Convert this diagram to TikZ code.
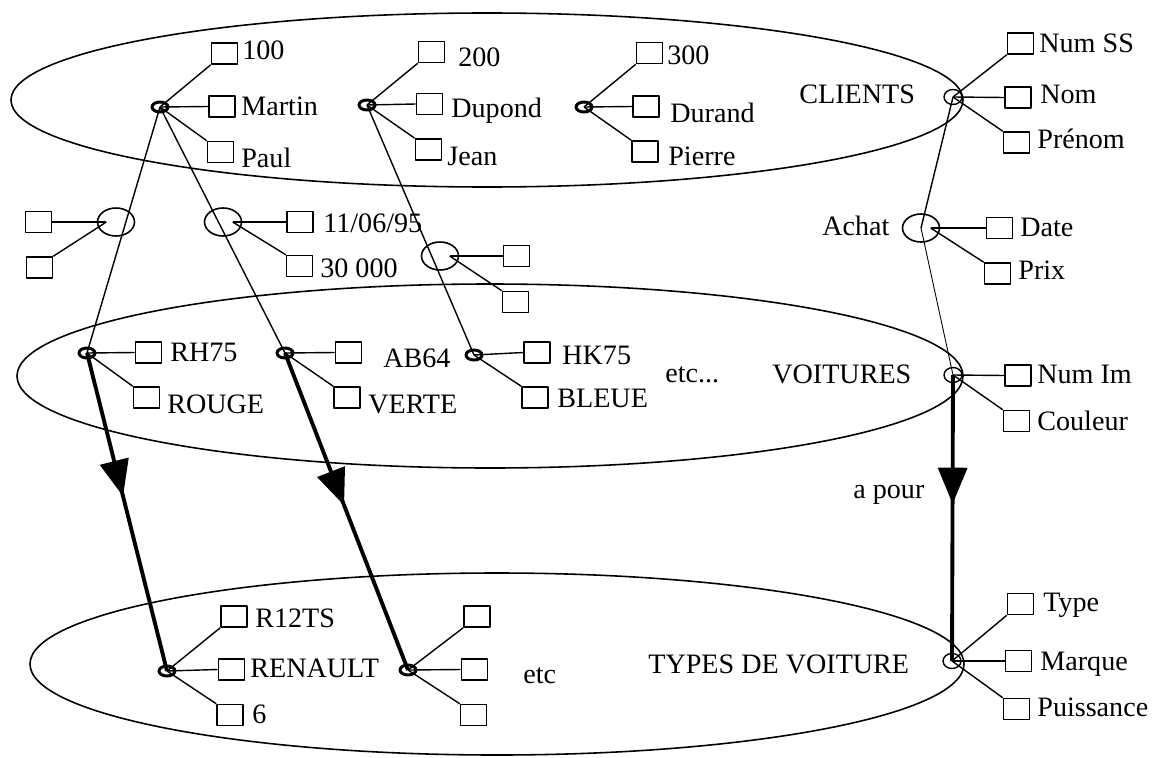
\documentclass[tikz,border=0pt]{standalone}
\usepackage{fontspec}
\setmainfont{Liberation Serif}
\usetikzlibrary{arrows.meta,calc,decorations.markings,shapes.geometric}

\begin{document}
\begin{tikzpicture}[x=0.02cm,y=-0.02cm,line join=round,
  every node/.style={font=\fontsize{16}{19}\selectfont},
  set/.style={line width=0.9pt},
  attr/.style={draw,line width=0.9pt,minimum width=0.52cm,minimum height=0.42cm,inner sep=0pt},
  occ/.style={ellipse,draw,line width=1.7pt,minimum width=0.32cm,minimum height=0.2cm,inner sep=0pt},
  ent/.style={ellipse,draw,line width=0.8pt,minimum width=0.36cm,minimum height=0.3cm,inner sep=0pt},
  rel/.style={ellipse,draw,line width=0.9pt,minimum width=0.74cm,minimum height=0.56cm,inner sep=0pt},
  txt/.style={anchor=base west,inner sep=0pt},
  link/.style={line width=0.8pt},
  typelink/.style={line width=2.2pt,postaction={decorate},
    decoration={markings,mark=at position #1 with {\fill (0,0) -- (-0.72cm,0.3cm) -- (-0.72cm,-0.3cm) -- cycle;}}}]
  \useasboundingbox (0,0) rectangle (1158,757);
  \draw[set] (487,100) ellipse [x radius=476,y radius=87];
  \draw[set] (490,376) ellipse [x radius=473,y radius=92];
  \draw[set] (497,664) ellipse [x radius=467,y radius=91];

  % CLIENTS
  \node[occ] (martin) at (160,107) {};
  \node[attr] (b100) at (224.5,53.5) {};
  \node[attr] (bmartin) at (222,106.5) {};
  \node[attr] (bpaul) at (220.5,152) {};
  \node[txt] (t100) at (242,60) {100};
  \node[txt] (tmartin) at (241,115) {Martin};
  \node[txt] (tpaul) at (241,167) {Paul};
  \node[occ] (dupond) at (367,105) {};
  \node[attr] (b200) at (431.5,52) {};
  \node[attr] (bdupond) at (429.5,104) {};
  \node[attr] (bjean) at (428.5,149.5) {};
  \node[txt] (t200) at (458,67) {200};
  \node[txt] (tdupond) at (451,117) {Dupond};
  \node[txt] (tjean) at (447,165) {Jean};
  \node[occ] (durand) at (584,107) {};
  \node[attr] (b300) at (649.5,53) {};
  \node[attr] (bdurand) at (646,106.5) {};
  \node[attr] (bpierre) at (645,151.5) {};
  \node[txt] (t300) at (667,65) {300};
  \node[txt] (tdurand) at (670,122) {Durand};
  \node[txt] (tpierre) at (668,165) {Pierre};
  \node[txt] (tclients) at (799,103) {CLIENTS};
  \node[ent] (clients) at (953,97) {};
  \node[attr] (bnumss) at (1020.5,43.5) {};
  \node[attr] (bnom) at (1018,97.5) {};
  \node[attr] (bprenom) at (1016.5,142.5) {};
  \node[txt] (tnumss) at (1039,52) {Num SS};
  \node[txt] (tnom) at (1040,103) {Nom};
  \node[txt] (tprenom) at (1037,148) {Prénom};
  \foreach \o/\a/\b/\c in {martin/b100/bmartin/bpaul,dupond/b200/bdupond/bjean,
      durand/b300/bdurand/bpierre,clients/bnumss/bnom/bprenom}{
    \draw[link] (\o.center) -- (\a.south west);
    \draw[link] (\o.center) -- (\b.west);
    \draw[link] (\o.center) -- (\c.north west);
  }

  % Achat
  \node[rel] (relA) at (116,222) {};
  \node[attr] (ba1) at (38.5,222) {};
  \node[attr] (ba2) at (39.5,267.5) {};
  \draw[link] ($(relA)!0.5!(relA.west)$) -- (ba1.east);
  \draw[link] ($(relA)!0.5!(relA.west)$) -- (ba2.north east);
  \node[rel] (relB) at (223,222) {};
  \node[attr] (bb1) at (300,222) {};
  \node[attr] (bb2) at (299.5,266) {};
  \node[txt] (tdate1) at (323,232) {11/06/95};
  \node[txt] (tprix1) at (320,277) {30 000};
  \node[rel] (relC) at (440,256) {};
  \node[attr] (bc1) at (516.5,256) {};
  \node[attr] (bc2) at (515.5,302) {};
  \node[rel] (achat) at (921,228) {};
  \node[attr] (bdate) at (999.5,228) {};
  \node[attr] (bprix) at (997.5,273.5) {};
  \node[txt] (tachat) at (822,235) {Achat};
  \node[txt] (tdate) at (1020,236) {Date};
  \node[txt] (tprix) at (1018,279) {Prix};
  \foreach \r/\a/\b in {relB/bb1/bb2,relC/bc1/bc2,achat/bdate/bprix}{
    \draw[link] ($(\r)!0.5!(\r.east)$) -- (\a.west);
    \draw[link] ($(\r)!0.5!(\r.east)$) -- (\b.north west);
  }

  % VOITURES
  \node[occ] (rh) at (87,353) {};
  \node[attr] (brh) at (148.5,352.5) {};
  \node[attr] (brouge) at (146.5,397.5) {};
  \node[txt] (trh) at (170,361) {RH75};
  \node[txt] (trouge) at (167,413) {ROUGE};
  \node[occ] (verte) at (285,353) {};
  \node[attr] (bab) at (348.5,352.5) {};
  \node[attr] (bverte) at (347,397.5) {};
  \node[txt] (tab) at (383,367) {AB64};
  \node[txt] (tverte) at (368,413) {VERTE};
  \node[occ] (hk) at (474,355) {};
  \node[attr] (bhk) at (537,352.5) {};
  \node[attr] (bbleue) at (535,397.5) {};
  \node[txt] (thk) at (562,364) {HK75};
  \node[txt] (tbleue) at (557,407) {BLEUE};
  \node[txt] (tetc1) at (665,382) {etc...};
  \node[txt] (tvoitures) at (772,383) {VOITURES};
  \node[ent] (voitures) at (953,375) {};
  \node[attr] (bnumim) at (1018,375.5) {};
  \node[attr] (bcouleur) at (1016.5,421) {};
  \node[txt] (tnumim) at (1037,383) {Num Im};
  \node[txt] (tcouleur) at (1037,430) {Couleur};
  \foreach \o/\a/\b in {rh/brh/brouge,verte/bab/bverte,hk/bhk/bbleue,voitures/bnumim/bcouleur}{
    \draw[link] (\o.center) -- (\a.west);
    \draw[link] (\o.center) -- (\b.north west);
  }

  % TYPES DE VOITURE
  \node[occ] (renault) at (167,671) {};
  \node[attr] (br12) at (234,616.5) {};
  \node[attr] (brenault) at (231.5,669.5) {};
  \node[attr] (b6) at (230,715) {};
  \node[txt] (tr12) at (255,627) {R12TS};
  \node[txt] (trenault) at (250,677) {RENAULT};
  \node[txt] (t6) at (252,723) {6};
  \node[occ] (autre) at (408,670) {};
  \node[attr] (bt1) at (477,616.5) {};
  \node[attr] (bt2) at (474.5,669.5) {};
  \node[attr] (bt3) at (473.5,715) {};
  \node[txt] (tetc2) at (523,683) {etc};
  \node[txt] (ttypes) at (648,673) {TYPES DE VOITURE};
  \node[ent] (types) at (952,661) {};
  \node[attr] (btype) at (1020.5,604) {};
  \node[attr] (bmarque) at (1018.5,661) {};
  \node[attr] (bpuiss) at (1016.5,709) {};
  \node[txt] (ttype) at (1043,611) {Type};
  \node[txt] (tmarque) at (1040,670) {Marque};
  \node[txt] (tpuiss) at (1037,716) {Puissance};
  \foreach \o/\a/\b/\c in {renault/br12/brenault/b6,autre/bt1/bt2/bt3,types/btype/bmarque/bpuiss}{
    \draw[link] (\o.center) -- (\a.south west);
    \draw[link] (\o.center) -- (\b.west);
    \draw[link] (\o.center) -- (\c.north west);
  }

  % liens
  \draw[link] (martin.center) -- (rh.center);
  \draw[link] (martin.center) -- (verte.center);
  \draw[link] (dupond.center) -- (hk.center);
  \draw[link] (clients.center) -- (achat.center);
  \draw[line width=0.5pt] (achat.center) -- (voitures.center);
  \draw[typelink=0.45] (rh.center) -- (renault.center);
  \draw[typelink=0.48] (verte.center) -- (autre.center);
  \draw[typelink=0.45] (voitures.center) -- (types.center);
  \node[txt] (tapour) at (853,498) {a pour};
\end{tikzpicture}
\end{document}
